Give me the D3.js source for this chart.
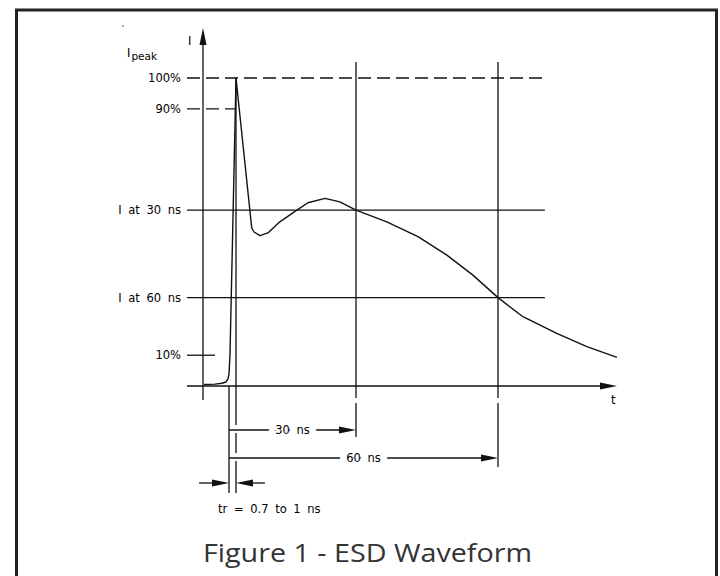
<!DOCTYPE html>
<html>
<head>
<meta charset="utf-8">
<script src="https://cdn.jsdelivr.net/npm/d3@7"></script>
<style>
  body { margin: 0; background: #fff; }
  svg text { font-family: "DejaVu Sans", sans-serif; font-size: 11.5px; fill: #000; word-spacing: 3px; }
</style>
</head>
<body>
<div id="chart"></div>
<script>
const WIDTH = 720;
const HEIGHT = 576;

// Waveform: time in ns, current in % of Ipeak
const timeNs = [-9.6, -5.4, -2.7, -1.2, -0.4, 0, 0.14, 0.5, 1, 4.8, 5.35, 6.8, 8.7, 11.6, 15.7, 18.4,
                22.5, 26.1, 30, 36.5, 43.1, 49.2, 54.7, 60, 66.7, 75.8, 83.9, 92];
const currentPct = [0.5, 0.6, 0.9, 1.3, 2.3, 3.9, 10, 47.4, 100, 51.3, 50, 48.8, 49.7, 53.3, 57.1, 59.5,
                    60.9, 59.8, 57.1, 53.3, 48.5, 42.5, 36, 28.7, 22.5, 17.1, 12.8, 9.3];

// Reference levels on the current axis
const levelLabels = ['100%', '90%', 'I at 30 ns', 'I at 60 ns', '10%'];
const levelValues = [100, 90, 57.1, 28.7, 10];
const levelEnds = [72.6, 1, 72.6, 72.6, -5.4];   // time where each level line stops
const levelDashed = [true, true, false, false, false];

// Time markers and dimension labels
const spanTimes = [30, 60];
const spanLabels = ['30 ns', '60 ns'];
const riseTimes = [0, 1];
const riseLabel = 'tr = 0.7 to 1 ns';
const title = 'Figure 1 - ESD Waveform';

document.addEventListener('DOMContentLoaded', function() {
  drawWaveform();
});

function drawWaveform() {
  // The drawing is schematic, so the time axis is piecewise linear
  const xScale = d3.scaleLinear()
                   .domain([-10, 0, 1, 30, 60, 92])
                   .range([203, 229, 236, 356, 498, 617]);
  const yScale = d3.scaleLinear()
                   .domain([0, 100])
                   .range([386, 78]);

  const svg = d3.select('#chart')
                .append('svg')
                .attr('width', WIDTH)
                .attr('height', HEIGHT);

  // Frame round the figure
  svg.append('rect')
     .attr('x', 16.5).attr('y', 10)
     .attr('width', 700).attr('height', 600)
     .attr('fill', 'none')
     .attr('stroke', '#222')
     .attr('stroke-width', 3);

  const ink = svg.append('g')
                 .attr('stroke', '#111')
                 .attr('stroke-width', 1.3)
                 .attr('fill', 'none');

  const x0 = xScale(-10);
  const yBase = yScale(0);

  // Reference levels
  levelValues.forEach(function(v, i) {
    ink.append('line')
       .attr('x1', x0 - 16).attr('x2', xScale(levelEnds[i]))
       .attr('y1', yScale(v)).attr('y2', yScale(v))
       .attr('stroke-dasharray', levelDashed[i] ? '13,6' : null);
    svg.append('text')
       .attr('x', x0 - 22)
       .attr('y', yScale(v))
       .attr('dy', '0.35em')
       .attr('text-anchor', 'end')
       .text(levelLabels[i]);
  });

  // Current axis with arrow
  ink.append('line')
     .attr('x1', x0).attr('x2', x0)
     .attr('y1', yBase + 14).attr('y2', 44);
  arrow(svg, x0, 28, 'up');
  svg.append('text').attr('x', x0 - 15).attr('y', 45).text('I');
  const peak = svg.append('text').attr('x', 127).attr('y', 57);
  peak.append('tspan').text('I');
  peak.append('tspan').attr('dy', 3).attr('dx', 1).style('font-size', '10.5px').text('peak');
  svg.append('circle').attr('cx', 123).attr('cy', 26).attr('r', 0.8).attr('fill', '#444');

  // Time axis with arrow
  ink.append('line')
     .attr('x1', x0 - 16).attr('x2', xScale(92) - 16)
     .attr('y1', yBase).attr('y2', yBase);
  arrow(svg, xScale(92), yBase, 'right');
  svg.append('text').attr('x', xScale(92) - 6).attr('y', yBase + 18).text('t');

  // Verticals at 30 ns and 60 ns, broken just under the axis
  spanTimes.forEach(function(t, i) {
    ink.append('line')
       .attr('x1', xScale(t)).attr('x2', xScale(t))
       .attr('y1', 62).attr('y2', yBase + 12);
    ink.append('line')
       .attr('x1', xScale(t)).attr('x2', xScale(t))
       .attr('y1', yBase + 17).attr('y2', yBase + 51 + 30 * i);
  });

  // Rise time extension lines
  ink.append('line')
     .attr('x1', xScale(riseTimes[0])).attr('x2', xScale(riseTimes[0]))
     .attr('y1', yBase).attr('y2', yBase + 107);
  ink.append('line')
     .attr('x1', xScale(riseTimes[1])).attr('x2', xScale(riseTimes[1]))
     .attr('y1', yScale(100)).attr('y2', yBase);
  ink.append('line')
     .attr('x1', xScale(riseTimes[1])).attr('x2', xScale(riseTimes[1]))
     .attr('y1', yBase).attr('y2', yBase + 107)
     .attr('stroke-dasharray', '39,8,20,8,60');

  // Dimension lines for 30 ns and 60 ns
  spanTimes.forEach(function(t, i) {
    const y = yBase + 44 + 28 * i;
    ink.append('line')
       .attr('x1', xScale(0)).attr('x2', xScale(t) - 16)
       .attr('y1', y).attr('y2', y);
    arrow(svg, xScale(t), y, 'right');
    svg.append('text')
       .attr('x', (xScale(0) + xScale(t)) / 2)
       .attr('y', y)
       .attr('dy', '0.35em')
       .attr('text-anchor', 'middle')
       .attr('stroke', '#fff')
       .attr('stroke-width', 14)
       .style('paint-order', 'stroke')
       .text(spanLabels[i]);
  });

  // Rise time arrows pointing inwards
  const yRise = yBase + 97;
  ink.append('line')
     .attr('x1', xScale(riseTimes[0]) - 30).attr('x2', xScale(riseTimes[0]) - 14)
     .attr('y1', yRise).attr('y2', yRise);
  arrow(svg, xScale(riseTimes[0]), yRise, 'right');
  ink.append('line')
     .attr('x1', xScale(riseTimes[1]) + 14).attr('x2', xScale(riseTimes[1]) + 29)
     .attr('y1', yRise).attr('y2', yRise);
  arrow(svg, xScale(riseTimes[1]), yRise, 'left');
  svg.append('text')
     .attr('x', 218)
     .attr('y', yRise + 30)
     .text(riseLabel);

  // Waveform
  const line = d3.line()
                 .x((d, i) => xScale(timeNs[i]))
                 .y(d => yScale(d))
                 .curve(d3.curveLinear);
  svg.append('path')
     .datum(currentPct)
     .attr('d', line)
     .attr('fill', 'none')
     .attr('stroke', '#111')
     .attr('stroke-width', 1.4)
     .attr('stroke-linejoin', 'round');

  // Caption
  svg.append('text')
     .attr('x', 367.5)
     .attr('y', 562)
     .attr('text-anchor', 'middle')
     .attr('textLength', 329)
     .attr('lengthAdjust', 'spacingAndGlyphs')
     .style('font-family', '"Open Sans", sans-serif')
     .style('font-size', '25px')
     .style('word-spacing', '0px')
     .style('fill', '#333')
     .text(title);
}

// Filled arrow head with its tip at (x, y)
function arrow(svg, x, y, dir) {
  const len = 17;
  const half = 3.5;
  let pts;
  if (dir === 'right') pts = [[x, y], [x - len, y - half], [x - len, y + half]];
  else if (dir === 'left') pts = [[x, y], [x + len, y - half], [x + len, y + half]];
  else pts = [[x, y], [x - half, y + len], [x + half, y + len]];
  svg.append('path')
     .attr('d', 'M' + pts.join('L') + 'Z')
     .attr('fill', '#111');
}
</script>
</body>
</html>
